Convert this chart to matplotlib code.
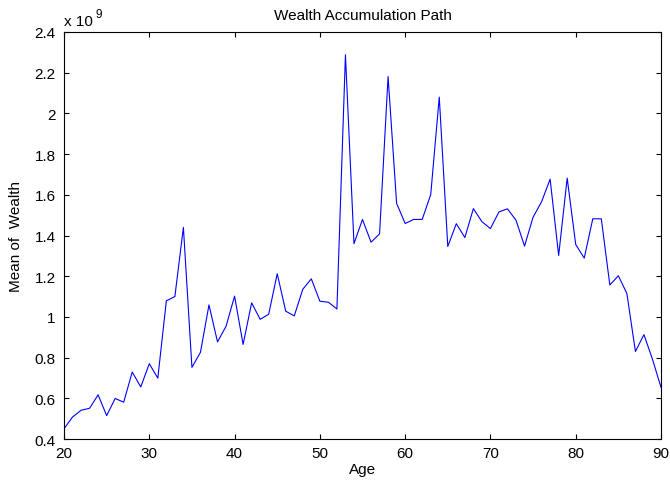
import matplotlib
matplotlib.use("Agg")
import matplotlib.pyplot as plt
from matplotlib.ticker import FuncFormatter, MultipleLocator
import numpy as np

# Age grid and mean wealth (in units of 1e9)
ages = list(range(20, 91))
mean_wealth = [
    0.45, 0.508, 0.541, 0.551, 0.617, 0.515, 0.599, 0.581, 0.729, 0.656,   # 20-29
    0.770, 0.699, 1.079, 1.100, 1.440, 0.752, 0.826, 1.059, 0.877, 0.954,  # 30-39
    1.102, 0.865, 1.069, 0.988, 1.013, 1.212, 1.028, 1.005, 1.136, 1.187,  # 40-49
    1.077, 1.072, 1.039, 2.288, 1.360, 1.479, 1.367, 1.408, 2.181, 1.558,  # 50-59
    1.459, 1.479, 1.479, 1.601, 2.080, 1.346, 1.458, 1.390, 1.532, 1.468,  # 60-69
    1.434, 1.516, 1.531, 1.475, 1.348, 1.490, 1.566, 1.677, 1.302, 1.682,  # 70-79
    1.356, 1.289, 1.482, 1.482, 1.157, 1.202, 1.115, 0.830, 0.913, 0.792,  # 80-89
    0.654,                                                                 # 90
]
scale = 1e9

plt.rcParams['font.family'] = ['Liberation Sans Narrow', 'Liberation Sans', 'DejaVu Sans']
fs = 11

W, H = 670, 481
fig = plt.figure(figsize=(W / 100, H / 100), dpi=100)
ax = fig.add_axes([64 / W, 1 - 440 / H, 597 / W, 407 / H])

ax.plot(ages, np.array(mean_wealth) * scale, color='#0000ff', linewidth=0.8)

ax.set_xlim(20, 90)
ax.set_ylim(0.4 * scale, 2.4 * scale)
ax.xaxis.set_major_locator(MultipleLocator(10))
ax.yaxis.set_major_locator(MultipleLocator(0.2 * scale))
ax.yaxis.set_major_formatter(FuncFormatter(lambda v, p: '%g' % round(v / scale, 2)))

ax.tick_params(direction='in', top=True, right=True, length=3.6, width=0.8,
               labelsize=fs)
ax.tick_params(axis='x', pad=5)
ax.tick_params(axis='y', pad=6)
for s in ax.spines.values():
    s.set_linewidth(0.8)

# exponent label above the y axis
fig.text(64 / W, 1 - 26 / H, 'x 10', fontsize=fs, ha='left', va='baseline')
fig.text(96 / W, 1 - 18 / H, '9', fontsize=8.5, ha='left', va='baseline')

ax.set_title('Wealth Accumulation Path', fontsize=fs, pad=9)
ax.set_xlabel('Age', fontsize=fs)
ax.set_ylabel('Mean of  Wealth', fontsize=fs)
ax.xaxis.set_label_coords(0.5, (440 - 463) / 407)
ax.yaxis.set_label_coords((23 - 64) / 597, 0.5)

fig.savefig('out.png', dpi=100)
